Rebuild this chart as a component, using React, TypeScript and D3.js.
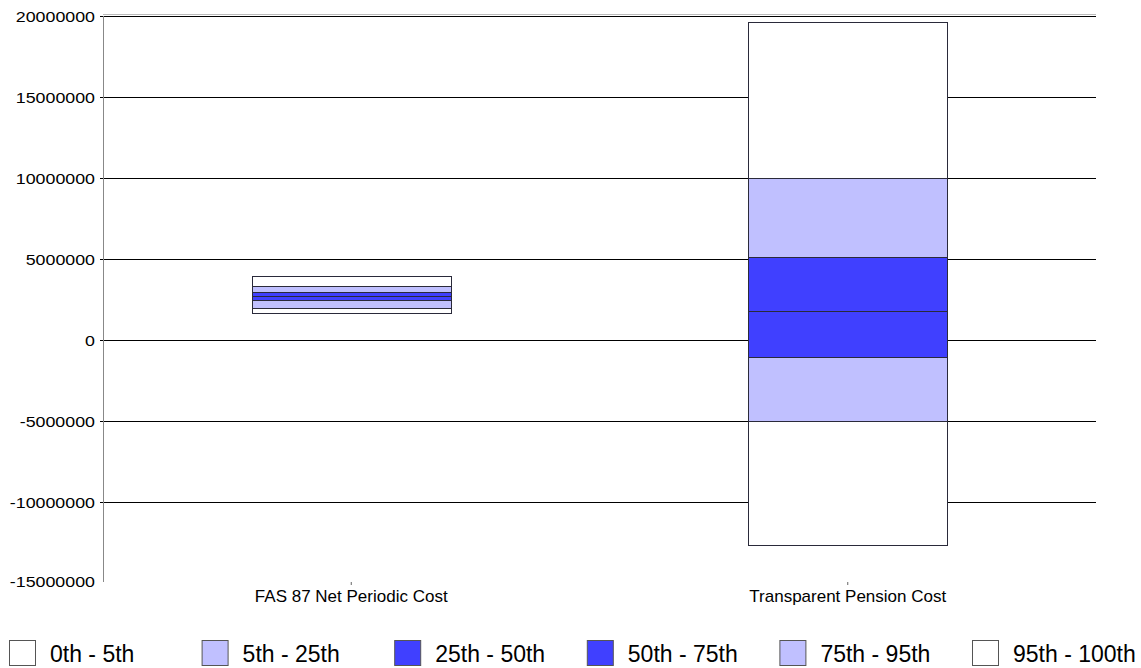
import React from "react";
import * as d3 from "d3";

const categories = ["FAS 87 Net Periodic Cost", "Transparent Pension Cost"];
const bandLabels = ["0th - 5th", "5th - 25th", "25th - 50th", "50th - 75th", "75th - 95th", "95th - 100th"];
const bandColors = ["#ffffff", "#c0c0ff", "#4040ff", "#4040ff", "#c0c0ff", "#ffffff"];
// percentile boundaries: 0th, 5th, 25th, 50th, 75th, 95th, 100th
const fasPercentiles = [1670000, 1990000, 2450000, 2720000, 2980000, 3330000, 3970000];
const tpcPercentiles = [-12670000, -5000000, -1050000, 1810000, 5140000, 10000000, 19630000];
const seriesPercentiles = [fasPercentiles, tpcPercentiles];
const yTicks = [20000000, 15000000, 10000000, 5000000, 0, -5000000, -10000000, -15000000];

const W = 1141;
const H = 668;
const left = 103;
const right = 1096;
const top = 16;
const bottom = 583;

export default function App() {
  const y = d3.scaleLinear().domain([-15000000, 20000000]).range([bottom, top]);
  const x = d3.scaleBand<string>().domain(categories).range([left, right]).paddingInner(0.6).paddingOuter(0.3);
  const bw = x.bandwidth();
  const font = "Arial, 'Liberation Sans', sans-serif";
  const minTick = d3.min(yTicks)!;

  return (
    <svg width={W} height={H} style={{ position: "absolute", left: 0, top: 0, background: "#fff" }}>
      {/* top frame line */}
      <line x1={left} x2={right} y1={top - 1.5} y2={top - 1.5} stroke="#bbb" strokeWidth={1} />
      {/* gridlines */}
      {yTicks.filter((t) => t !== minTick).map((t) => (
        <line key={t} x1={left - 3} x2={right} y1={Math.round(y(t)) + 0.5} y2={Math.round(y(t)) + 0.5} stroke="#000" strokeWidth={1} />
      ))}
      {/* y axis line */}
      <line x1={left + 0.5} x2={left + 0.5} y1={top} y2={bottom - 1} stroke="#888" strokeWidth={1} />
      {/* y labels */}
      {yTicks.map((t) => (
        <g key={"l" + t} transform={`translate(95,${y(t) + (t === minTick ? 4 : 5.5)}) scale(1.15,1)`}>
          <text x={0} y={0} textAnchor="end" fontFamily={font} fontSize={15.5} fill="#000">
            {String(t)}
          </text>
        </g>
      ))}
      {/* bars */}
      {categories.map((c, ci) => {
        const p = seriesPercentiles[ci];
        const x0 = x(c)!;
        return (
          <g key={c}>
            {bandLabels.map((b, bi) => {
              const y1 = y(p[bi + 1]);
              const y0 = y(p[bi]);
              return (
                <rect
                  key={b}
                  x={Math.round(x0) + 0.5}
                  y={Math.round(y1) + 0.5}
                  width={Math.round(bw)}
                  height={Math.round(y0) - Math.round(y1)}
                  fill={bandColors[bi]}
                  stroke="#2a2a3a"
                  strokeWidth={1}
                />
              );
            })}
          </g>
        );
      })}
      {/* category ticks and labels */}
      {categories.map((c) => {
        const cx = x(c)! + bw / 2;
        return (
          <g key={"c" + c}>
            <line x1={cx} x2={cx} y1={bottom - 1} y2={bottom + 2} stroke="#666" strokeWidth={1} />
            <text x={cx} y={bottom + 19} textAnchor="middle" fontFamily={font} fontSize={17} fill="#000">
              {c}
            </text>
          </g>
        );
      })}
      {/* legend */}
      {bandLabels.map((b, i) => {
        const lx = 9 + i * 192.6;
        return (
          <g key={"lg" + b}>
            <rect x={lx + 0.5} y={640.5} width={26} height={25} fill={bandColors[i]} stroke="#555" strokeWidth={1} />
            <text x={lx + 41} y={662} fontFamily={font} fontSize={23} fill="#000">
              {b}
            </text>
          </g>
        );
      })}
    </svg>
  );
}
